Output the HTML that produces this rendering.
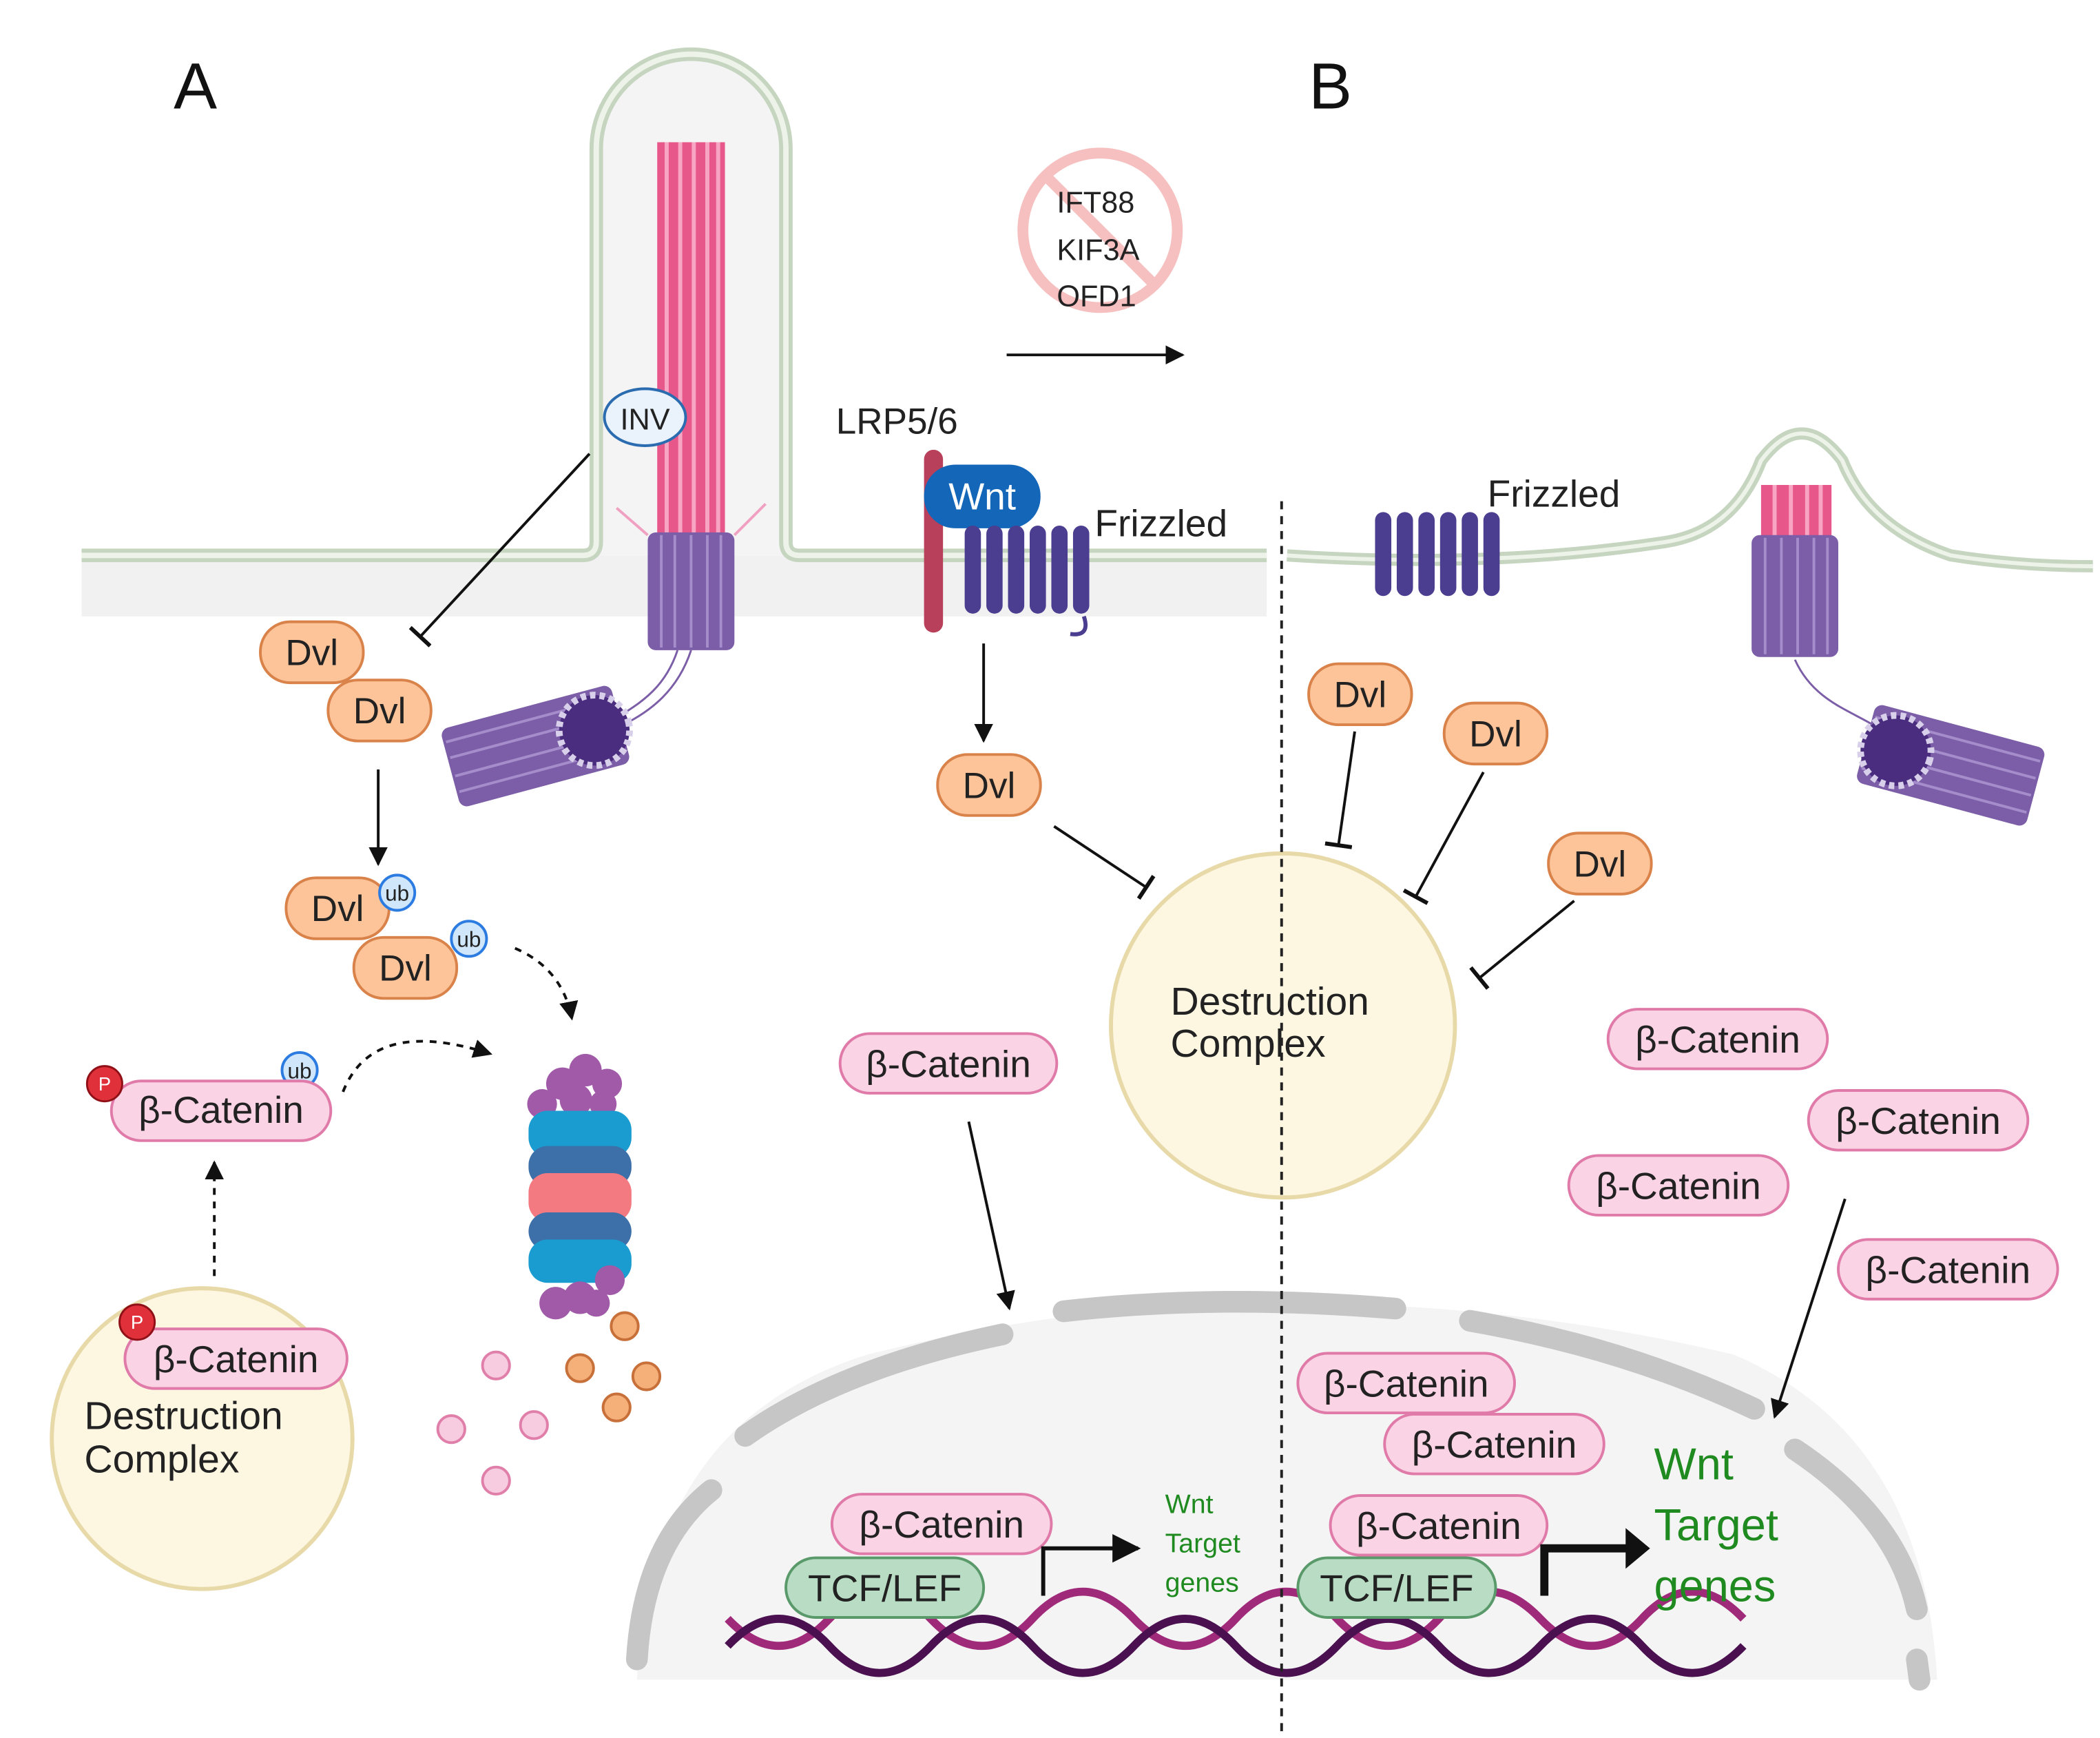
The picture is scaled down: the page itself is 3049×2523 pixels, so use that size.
<!DOCTYPE html>
<html><head><meta charset="utf-8"><style>
html,body{margin:0;padding:0;background:#fff}
svg{display:block}
text{font-family:"Liberation Sans",sans-serif}
</style></head><body>
<svg width="3049" height="2523" viewBox="0 0 1550 1283" xmlns="http://www.w3.org/2000/svg">
<defs>
<marker id="ah" viewBox="0 0 10 10" refX="9" refY="5" markerWidth="7" markerHeight="7" orient="auto"><path d="M0,0L10,5L0,10z" fill="#111"/></marker>
<marker id="tb" viewBox="0 0 10 10" refX="5" refY="5" markerWidth="10" markerHeight="10" orient="auto"><path d="M5,0V10" stroke="#111" stroke-width="1.5"/></marker>
</defs>
<rect width="1550" height="1283" fill="#fff"/>
<text x="128" y="80" font-size="48" fill="#111">A</text>
<text x="966" y="80" font-size="48" fill="#111">B</text>

<rect x="60" y="410" width="875" height="45" fill="#f1f1f1"/>
<path d="M440,410 V110 A70,70 0 0 1 580,110 V410 Z" fill="#f4f4f4"/>
<path d="M60,410 H430 Q440,410 440,400 V110 A70,70 0 0 1 580,110 V400 Q580,410 590,410 H935" fill="none" stroke="#c5d5bf" stroke-width="10"/>
<path d="M60,410 H430 Q440,410 440,400 V110 A70,70 0 0 1 580,110 V400 Q580,410 590,410 H935" fill="none" stroke="#eef3ea" stroke-width="4"/>
<g>
<rect x="485" y="105" width="50" height="290" fill="#e8578a"/>
<g stroke="#f7a5c3" stroke-width="3"><line x1="492" y1="105" x2="492" y2="395"/><line x1="502" y1="105" x2="502" y2="395"/><line x1="512" y1="105" x2="512" y2="395"/><line x1="522" y1="105" x2="522" y2="395"/><line x1="530" y1="105" x2="530" y2="395"/></g>
<rect x="478" y="393" width="64" height="87" rx="6" fill="#7b5ea7"/>
<g stroke="#a58ccb" stroke-width="2"><line x1="488" y1="395" x2="488" y2="478"/><line x1="498" y1="395" x2="498" y2="478"/><line x1="510" y1="395" x2="510" y2="478"/><line x1="522" y1="395" x2="522" y2="478"/><line x1="532" y1="395" x2="532" y2="478"/></g>
<path d="M455,375 L478,395 M565,372 L542,395" stroke="#f0a0c0" stroke-width="2"/>
<path d="M500,480 C490,510 470,520 455,530 M510,480 C500,510 480,525 460,535" stroke="#7b5ea7" stroke-width="1.5" fill="none"/>
<g transform="rotate(-15 398 550)"><rect x="330" y="520" width="130" height="60" rx="6" fill="#7b5ea7"/>
<g stroke="#a58ccb" stroke-width="2"><line x1="332" y1="530" x2="458" y2="530"/><line x1="332" y1="542" x2="458" y2="542"/><line x1="332" y1="556" x2="458" y2="556"/><line x1="332" y1="568" x2="458" y2="568"/></g>
<circle cx="440" cy="550" r="26" fill="#4b2d7f" stroke="#d8d0ea" stroke-width="5" stroke-dasharray="4 3"/></g>
</g>
<ellipse cx="476" cy="308" rx="30" ry="21" fill="#eaf3fb" stroke="#2b6cb0" stroke-width="2"/>
<text x="476" y="317" font-size="22" text-anchor="middle" fill="#222">INV</text>
<line x1="435" y1="335" x2="310" y2="470" stroke="#111" stroke-width="2" marker-end="url(#tb)"/>

<g font-size="27" text-anchor="middle" fill="#222">
<g fill="#fdc49a" stroke="#d9824a" stroke-width="2">
<rect x="192" y="459" width="76" height="45" rx="22"/>
<rect x="242" y="502" width="76" height="45" rx="22"/>
<rect x="211" y="648" width="76" height="45" rx="22"/>
<rect x="261" y="692" width="76" height="45" rx="22"/>
<rect x="692" y="557" width="76" height="45" rx="22"/>
<rect x="966" y="490" width="76" height="45" rx="22"/>
<rect x="1066" y="519" width="76" height="45" rx="22"/>
<rect x="1143" y="615" width="76" height="45" rx="22"/>
</g>
<text x="230" y="491">Dvl</text><text x="280" y="534">Dvl</text><text x="249" y="680">Dvl</text><text x="299" y="724">Dvl</text><text x="730" y="589">Dvl</text><text x="1004" y="522">Dvl</text><text x="1104" y="551">Dvl</text><text x="1181" y="647">Dvl</text>
</g>
<g font-size="16" text-anchor="middle" fill="#222">
<circle cx="293" cy="659" r="13" fill="#cfe6fb" stroke="#2b7be0" stroke-width="2"/><text x="293" y="665">ub</text>
<circle cx="346" cy="693" r="13" fill="#cfe6fb" stroke="#2b7be0" stroke-width="2"/><text x="346" y="699">ub</text>
<circle cx="221" cy="790" r="13" fill="#cfe6fb" stroke="#2b7be0" stroke-width="2"/><text x="221" y="796">ub</text>
</g>
<line x1="279" y1="568" x2="279" y2="638" stroke="#111" stroke-width="2" marker-end="url(#ah)"/>
<path d="M380,700 Q415,715 422,752" fill="none" stroke="#111" stroke-width="2" stroke-dasharray="5 5" marker-end="url(#ah)"/>
<path d="M253,806 Q275,750 362,778" fill="none" stroke="#111" stroke-width="2" stroke-dasharray="5 5" marker-end="url(#ah)"/>
<line x1="158" y1="942" x2="158" y2="858" stroke="#111" stroke-width="2" stroke-dasharray="5 5" marker-end="url(#ah)"/>

<circle cx="149" cy="1062" r="111" fill="#fdf7e2" stroke="#e8d9a8" stroke-width="3"/>
<text x="62" y="1055" font-size="29" fill="#222">Destruction</text>
<text x="62" y="1087" font-size="29" fill="#222">Complex</text>

<g fill="#fad3e5" stroke="#e07aa8" stroke-width="2">
<rect x="82" y="798" width="162" height="44" rx="22"/>
<rect x="92" y="981" width="164" height="44" rx="22"/>
<rect x="620" y="763" width="160" height="44" rx="22"/>
<rect x="1187" y="745" width="162" height="44" rx="22"/>
<rect x="1335" y="805" width="162" height="44" rx="22"/>
<rect x="1158" y="853" width="162" height="44" rx="22"/>
<rect x="1357" y="915" width="162" height="44" rx="22"/>
</g>
<g font-size="28" fill="#222" text-anchor="middle">
<text x="163" y="829">β-Catenin</text><text x="174" y="1013">β-Catenin</text><text x="700" y="795">β-Catenin</text>
<text x="1268" y="777">β-Catenin</text><text x="1416" y="837">β-Catenin</text><text x="1239" y="885">β-Catenin</text>
<text x="1438" y="947">β-Catenin</text>
</g>
<g font-size="14" fill="#fff" text-anchor="middle">
<circle cx="77" cy="800" r="13" fill="#e0303a" stroke="#901018" stroke-width="1.5"/><text x="77" y="805">P</text>
<circle cx="101" cy="976" r="13" fill="#e0303a" stroke="#901018" stroke-width="1.5"/><text x="101" y="981">P</text>
</g>

<g>
<g fill="#a05aa8"><circle cx="415" cy="800" r="12"/><circle cx="432" cy="790" r="12"/><circle cx="448" cy="800" r="11"/><circle cx="400" cy="815" r="11"/><circle cx="425" cy="812" r="12"/><circle cx="445" cy="815" r="10"/></g>
<rect x="390" y="820" width="76" height="34" rx="14" fill="#1a9cd0"/>
<rect x="390" y="846" width="76" height="30" rx="14" fill="#3d6fa8"/>
<rect x="390" y="866" width="76" height="36" rx="14" fill="#f27a80"/>
<rect x="390" y="895" width="76" height="28" rx="14" fill="#3d6fa8"/>
<rect x="390" y="915" width="76" height="32" rx="14" fill="#1a9cd0"/>
<g fill="#a05aa8"><circle cx="410" cy="962" r="12"/><circle cx="428" cy="958" r="12"/><circle cx="450" cy="945" r="11"/><circle cx="440" cy="962" r="10"/></g>
<g fill="#f7cbe0" stroke="#e080aa" stroke-width="2"><circle cx="366" cy="1008" r="10"/><circle cx="333" cy="1055" r="10"/><circle cx="394" cy="1052" r="10"/><circle cx="366" cy="1093" r="10"/></g>
<g fill="#f5b07a" stroke="#c8703a" stroke-width="2"><circle cx="461" cy="979" r="10"/><circle cx="428" cy="1010" r="10"/><circle cx="477" cy="1016" r="10"/><circle cx="455" cy="1039" r="10"/></g>
</g>

<rect x="682" y="332" width="14" height="135" rx="7" fill="#b8405a"/>
<rect x="682" y="343" width="86" height="47" rx="23" fill="#1466b8"/>
<text x="725" y="376" font-size="28" fill="#fff" text-anchor="middle">Wnt</text>
<text x="617" y="320" font-size="27" fill="#222">LRP5/6</text>
<g fill="#4b3d8f"><rect x="712" y="388" width="12" height="65" rx="6"/><rect x="728" y="388" width="12" height="65" rx="6"/><rect x="744" y="388" width="12" height="65" rx="6"/><rect x="760" y="388" width="12" height="65" rx="6"/><rect x="776" y="388" width="12" height="65" rx="6"/><rect x="792" y="388" width="12" height="65" rx="6"/></g>
<path d="M800,455 Q805,470 790,468" stroke="#4b3d8f" stroke-width="3" fill="none"/>
<text x="808" y="396" font-size="28" fill="#222">Frizzled</text>
<line x1="726" y1="475" x2="726" y2="547" stroke="#111" stroke-width="2" marker-end="url(#ah)"/>
<line x1="778" y1="610" x2="846" y2="655" stroke="#111" stroke-width="2" marker-end="url(#tb)"/>

<circle cx="812" cy="170" r="57" fill="#fff" stroke="#f7c0c0" stroke-width="8"/>
<line x1="772" y1="130" x2="852" y2="210" stroke="#f7c0c0" stroke-width="8"/>
<g font-size="22" fill="#222"><text x="780" y="157">IFT88</text><text x="780" y="192">KIF3A</text><text x="780" y="226">OFD1</text></g>
<line x1="743" y1="262" x2="873" y2="262" stroke="#111" stroke-width="2" marker-end="url(#ah)"/>

<path d="M950,410 Q1100,420 1230,400 Q1280,392 1300,340 Q1330,300 1360,340 Q1380,390 1440,410 Q1490,418 1545,418" fill="none" stroke="#c5d5bf" stroke-width="9"/>
<path d="M950,410 Q1100,420 1230,400 Q1280,392 1300,340 Q1330,300 1360,340 Q1380,390 1440,410 Q1490,418 1545,418" fill="none" stroke="#eef3ea" stroke-width="3"/>
<g fill="#4b3d8f"><rect x="1015" y="378" width="12" height="62" rx="6"/><rect x="1031" y="378" width="12" height="62" rx="6"/><rect x="1047" y="378" width="12" height="62" rx="6"/><rect x="1063" y="378" width="12" height="62" rx="6"/><rect x="1079" y="378" width="12" height="62" rx="6"/><rect x="1095" y="378" width="12" height="62" rx="6"/></g>
<text x="1098" y="374" font-size="28" fill="#222">Frizzled</text>
<rect x="1300" y="358" width="52" height="40" fill="#e8578a"/>
<g stroke="#f7a5c3" stroke-width="3"><line x1="1310" y1="358" x2="1310" y2="398"/><line x1="1322" y1="358" x2="1322" y2="398"/><line x1="1334" y1="358" x2="1334" y2="398"/><line x1="1344" y1="358" x2="1344" y2="398"/></g>
<rect x="1293" y="395" width="64" height="90" rx="6" fill="#7b5ea7"/>
<g stroke="#a58ccb" stroke-width="2"><line x1="1303" y1="397" x2="1303" y2="483"/><line x1="1315" y1="397" x2="1315" y2="483"/><line x1="1327" y1="397" x2="1327" y2="483"/><line x1="1339" y1="397" x2="1339" y2="483"/><line x1="1349" y1="397" x2="1349" y2="483"/></g>
<path d="M1325,487 C1340,520 1370,525 1390,540" stroke="#7b5ea7" stroke-width="1.5" fill="none"/>
<g transform="rotate(15 1440 565)"><rect x="1375" y="535" width="130" height="60" rx="6" fill="#7b5ea7"/>
<g stroke="#a58ccb" stroke-width="2"><line x1="1377" y1="545" x2="1503" y2="545"/><line x1="1377" y1="558" x2="1503" y2="558"/><line x1="1377" y1="571" x2="1503" y2="571"/><line x1="1377" y1="584" x2="1503" y2="584"/></g>
<circle cx="1398" cy="565" r="26" fill="#4b2d7f" stroke="#d8d0ea" stroke-width="5" stroke-dasharray="4 3"/></g>

<circle cx="947" cy="757" r="127" fill="#fdf7e2" stroke="#e8d9a8" stroke-width="3"/>
<text x="864" y="749" font-size="29" fill="#222">Destruction</text>
<text x="864" y="780" font-size="29" fill="#222">Complex</text>
<line x1="1000" y1="540" x2="988" y2="624" stroke="#111" stroke-width="2" marker-end="url(#tb)"/>
<line x1="1095" y1="570" x2="1045" y2="662" stroke="#111" stroke-width="2" marker-end="url(#tb)"/>
<line x1="1162" y1="665" x2="1092" y2="722" stroke="#111" stroke-width="2" marker-end="url(#tb)"/>

<path d="M470,1240 Q480,1050 640,1000 Q800,960 950,962 Q1120,962 1280,1000 Q1420,1060 1430,1240 Z" fill="#f4f4f4"/>
<g fill="none" stroke="#c6c6c6" stroke-width="16" stroke-linecap="round">
<path d="M470,1225 Q475,1140 525,1100"/>
<path d="M550,1060 Q620,1010 740,985"/>
<path d="M785,968 Q900,955 1030,966"/>
<path d="M1085,975 Q1200,995 1295,1040"/>
<path d="M1325,1070 Q1400,1120 1415,1188"/>
<path d="M1415,1225 L1417,1240"/>
</g>
<g fill="none" stroke-width="6">
<path d="M537,1195 Q575,1235 612,1195 T687,1195 T762,1195 T837,1195 T912,1195 T987,1195 T1062,1195 T1137,1195 T1212,1195 T1287,1195" stroke="#a02a7a"/>
<path d="M537,1215 Q575,1175 612,1215 T687,1215 T762,1215 T837,1215 T912,1215 T987,1215 T1062,1215 T1137,1215 T1212,1215 T1287,1215" stroke="#4a1050"/>
</g>
<g fill="#fad3e5" stroke="#e07aa8" stroke-width="2">
<rect x="958" y="999" width="160" height="44" rx="22"/>
<rect x="1022" y="1044" width="162" height="44" rx="22"/>
<rect x="614" y="1103" width="162" height="44" rx="22"/>
<rect x="982" y="1104" width="160" height="44" rx="22"/>
</g>
<g font-size="28" fill="#222" text-anchor="middle">
<text x="1038" y="1031">β-Catenin</text><text x="1103" y="1076">β-Catenin</text>
<text x="695" y="1135">β-Catenin</text><text x="1062" y="1136">β-Catenin</text>
</g>
<g fill="#b9dcc4" stroke="#5a9a6a" stroke-width="2">
<rect x="580" y="1150" width="146" height="44" rx="22"/>
<rect x="958" y="1150" width="146" height="44" rx="22"/>
</g>
<g font-size="28" fill="#222" text-anchor="middle"><text x="653" y="1182">TCF/LEF</text><text x="1031" y="1182">TCF/LEF</text></g>
<path d="M770,1178 V1143 H840" fill="none" stroke="#111" stroke-width="3" marker-end="url(#ah)"/>
<path d="M1140,1178 V1143 H1205" fill="none" stroke="#111" stroke-width="6"/>
<path d="M1200,1128 L1218,1143 L1200,1158z" fill="#111"/>
<g font-size="20" fill="#1f8a1f"><text x="860" y="1117">Wnt</text><text x="860" y="1146">Target</text><text x="860" y="1175">genes</text></g>
<g font-size="33" fill="#1f8a1f"><text x="1221" y="1092">Wnt</text><text x="1221" y="1137">Target</text><text x="1221" y="1182">genes</text></g>

<line x1="715" y1="828" x2="745" y2="966" stroke="#111" stroke-width="2" marker-end="url(#ah)"/>
<line x1="1362" y1="885" x2="1310" y2="1046" stroke="#111" stroke-width="2" marker-end="url(#ah)"/>

<line x1="946" y1="370" x2="946" y2="1283" stroke="#222" stroke-width="2" stroke-dasharray="6 5"/>
</svg>
</body></html>
